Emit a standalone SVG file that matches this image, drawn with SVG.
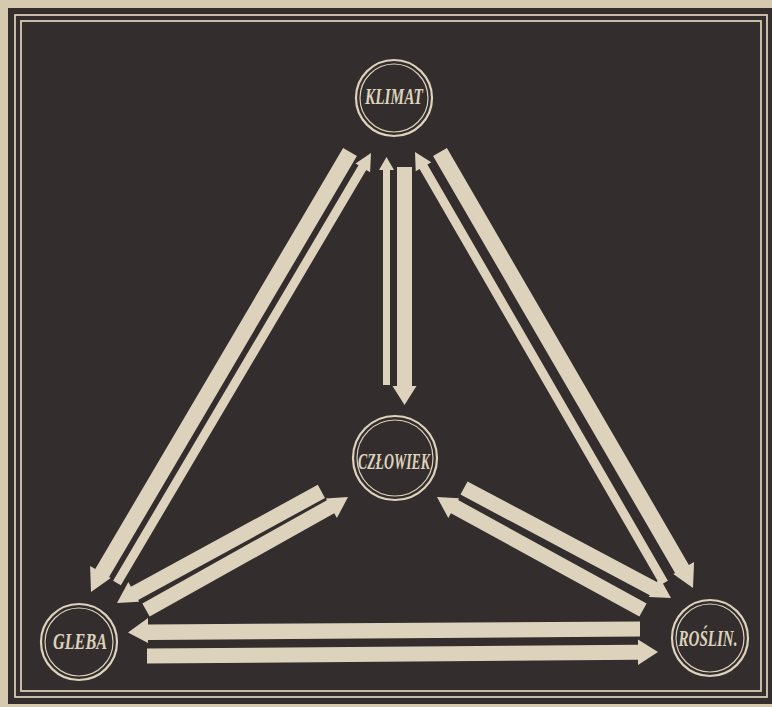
<svg xmlns="http://www.w3.org/2000/svg" width="772" height="707" viewBox="0 0 772 707">
<style>
.arrow{fill:#ddd2bc;stroke:none}
.ring-o{fill:none;stroke:#ddd2bc;stroke-width:2.2}
.ring-i{fill:none;stroke:#ddd2bc;stroke-width:1.2}
.lbl{font-family:"Liberation Serif","DejaVu Serif",serif;font-weight:bold;font-style:italic;font-size:23px;fill:#ddd2bc;text-anchor:middle}
.frame{fill:none;stroke:#d6cbb4;stroke-width:1.8}
</style>
<rect x="0" y="0" width="772" height="707" fill="#d5c9b0"/>
<rect x="8" y="8" width="766" height="696" fill="#332e2d"/>
<rect class="frame" x="15" y="15" width="752" height="682"/>
<rect class="frame" x="21" y="21" width="740" height="670"/>

<g id="connectors">
  <polygon class="arrow" points="343.11,147.94 95.27,568.98 90.10,565.94 91,592 110.78,578.11 109.05,577.10 356.89,156.06"/>
  <polygon class="arrow" points="120.87,585.29 366.23,169.93 370.10,172.22 371,153 355.46,163.57 358.48,165.35 113.13,580.71"/>
  <polygon class="arrow" points="667.90,580.75 427.40,164.47 431.29,162.22 415,152 415.71,171.22 419.60,168.97 660.10,585.25"/>
  <polygon class="arrow" points="433.08,156.02 675.04,572.99 673.31,573.99 693,588 694.07,561.94 688.88,564.96 446.92,147.99"/>
  <polygon class="arrow" points="383,385 383,170 379,170 386.5,157 394,170 390,170 390,385"/>
  <polygon class="arrow" points="397,167 412,167 412,386 416.5,386 404.5,405 392.5,386 397,386"/>
  <polygon class="arrow" points="317.78,484.86 130.96,586.83 128.33,582.01 117,603 139.11,601.76 138.15,600.00 324.96,498.02"/>
  <polygon class="arrow" points="142.34,603.45 326.89,500.21 325.91,498.47 348,497 336.90,518.11 334.21,513.31 149.66,616.55"/>
  <polygon class="arrow" points="467.52,481.38 656.86,581.99 659.44,577.13 671,598 648.88,597.00 649.82,595.24 460.48,494.62"/>
  <polygon class="arrow" points="646.61,603.42 458.14,500.04 459.11,498.29 437,497 448.29,518.02 450.93,513.19 639.39,616.58"/>
  <polygon class="arrow" points="640,621.5 148,624.5 148,618 128,632.5 148,643 148,640 640,636.5"/>
  <polygon class="arrow" points="147,648.5 638,644.7 638,639.5 658,652 638,665 638,659.7 147,663.5"/>
</g>

<g id="node-klimat">
  <circle class="ring-o" cx="394" cy="98" r="38"/>
  <circle class="ring-i" cx="394" cy="98" r="34"/>
  <text class="lbl" x="394" y="104" textLength="58" lengthAdjust="spacingAndGlyphs">KLIMAT</text>
</g>
<g id="node-czlowiek">
  <circle class="ring-o" cx="395" cy="458" r="42"/>
  <circle class="ring-i" cx="395" cy="458" r="38"/>
  <text class="lbl" x="394" y="469" textLength="72" lengthAdjust="spacingAndGlyphs">CZŁOWIEK</text>
</g>
<g id="node-gleba">
  <circle class="ring-o" cx="79" cy="642" r="38"/>
  <circle class="ring-i" cx="79" cy="642" r="34"/>
  <text class="lbl" x="80" y="649" textLength="54" lengthAdjust="spacingAndGlyphs">GLEBA</text>
</g>
<g id="node-roslin">
  <circle class="ring-o" cx="710" cy="638" r="38"/>
  <circle class="ring-i" cx="710" cy="638" r="34"/>
  <text class="lbl" x="708" y="646" textLength="59" lengthAdjust="spacingAndGlyphs">ROŚLIN.</text>
</g>
</svg>
